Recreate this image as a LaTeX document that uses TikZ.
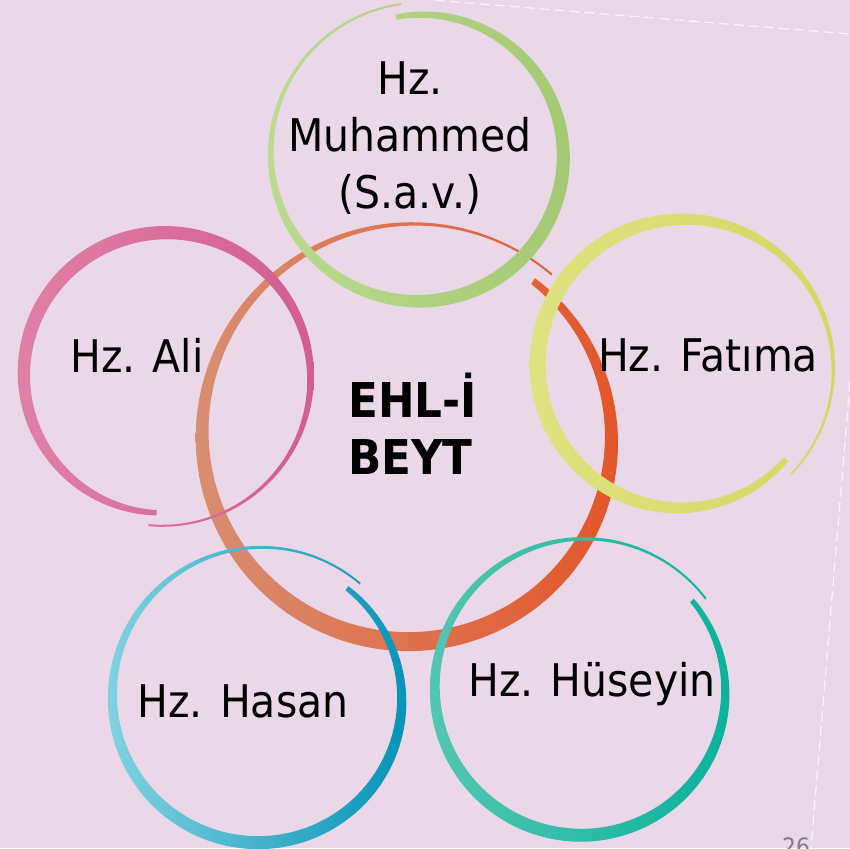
\documentclass[tikz,border=0pt]{standalone}
\usepackage{fontspec}
\setmainfont{DejaVu Sans}[FakeStretch=0.91]

\definecolor{bgpink}{RGB}{234,216,233}
\definecolor{ehlA}{RGB}{216,142,114}
\definecolor{ehlB}{RGB}{227,86,42}
\definecolor{greenA}{RGB}{186,219,142}
\definecolor{greenB}{RGB}{164,201,115}
\definecolor{yellowA}{RGB}{222,226,128}
\definecolor{yellowB}{RGB}{211,215,98}
\definecolor{pinkA}{RGB}{224,128,165}
\definecolor{pinkB}{RGB}{210,94,140}
\definecolor{blueA}{RGB}{128,210,224}
\definecolor{blueB}{RGB}{6,148,184}
\definecolor{tealA}{RGB}{84,198,178}
\definecolor{tealB}{RGB}{10,178,156}
\definecolor{pagegray}{RGB}{128,128,128}

% brush ring: centre, start angle, r start, r end, max width, left colour, right colour
\newcommand{\brushring}[7]{%
  \begin{scope}[shift={(#1)}]
    \shade[left color=#6, right color=#7]
      plot[domain=0:1, samples=160, variable=\s]
        ({#2-363*\s}:{#3+(#4-#3)*\s+(2+(#5-2)*pow(sin(180*(0.18+0.82*\s)),2))/2})
      -- plot[domain=1:0, samples=160, variable=\s]
        ({#2-363*\s}:{#3+(#4-#3)*\s-(2+(#5-2)*pow(sin(180*(0.18+0.82*\s)),2))/2})
      -- cycle;
  \end{scope}}

\begin{document}
\begin{tikzpicture}[x=1pt, y=1pt,
  hz/.style={inner sep=0pt, font=\fontsize{45}{57}\selectfont},
  ehl/.style={inner sep=0pt, font=\fontsize{48}{57}\selectfont\bfseries},
  slideedge/.style={white, opacity=.8, line width=1.2pt, dash pattern=on 10pt off 5pt}]
  \useasboundingbox (0,0) rectangle (850,848);
  \clip (0,0) rectangle (850,848);
  \fill[bgpink] (0,0) rectangle (850,848);
  \draw[slideedge] (420,849) -- (850,814);
  \draw[slideedge] (850,466) -- (811,0);

  \coordinate (cEhl) at (411,411);
  \coordinate (cMuh) at (420,693);
  \coordinate (cFat) at (682,481);
  \coordinate (cAli) at (164,472);
  \coordinate (cHas) at (260,150);
  \coordinate (cHus) at (583,158);

  \brushring{cEhl}{52}{198}{215}{19}{ehlA}{ehlB}
  \brushring{cMuh}{100}{140}{152}{14}{greenA}{greenB}
  \brushring{cFat}{-41.5}{139}{153}{16}{yellowA}{yellowB}
  \brushring{cAli}{-93}{137}{150}{14}{pinkA}{pinkB}
  \brushring{cHas}{51.7}{140}{152}{13}{blueA}{blueB}
  \brushring{cHus}{39.5}{141}{153}{13}{tealA}{tealB}

  \node[hz, align=center] (muhammed) at (410,710) {Hz.\\Muhammed\\(S.a.v.)};
  \node[hz, anchor=base] (ali) at (137,475) {Hz. Ali};
  \node[hz, anchor=base] (fatima) at (708,476) {Hz. Fatıma};
  \node[hz, anchor=base] (hasan) at (243,131) {Hz. Hasan};
  \node[hz, anchor=base] (huseyin) at (592,151) {Hz. Hüseyin};
  \node[ehl, align=left] (ehlibeyt) at (412.5,424) {EHL-İ\\BEYT};
  \node[anchor=base west, inner sep=0pt, text=pagegray, font=\fontsize{24}{24}\selectfont] (pagenum) at (782,-7.5) {26};
\end{tikzpicture}
\end{document}
